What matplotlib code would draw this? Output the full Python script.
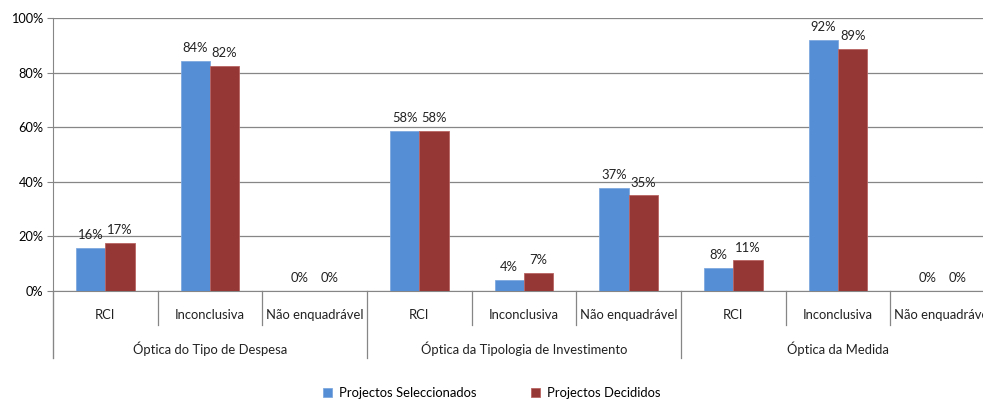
import numpy as np
import matplotlib
matplotlib.use("Agg")
import matplotlib.pyplot as plt

# data
categories = ["RCI", "Inconclusiva", "Não enquadrável"] * 3
groups = ["Óptica do Tipo de Despesa", "Óptica da Tipologia de Investimento", "Óptica da Medida"]
seleccionados = [15.8, 84.2, 0.0, 58.6, 4.0, 37.7, 8.4, 91.9, 0.0]
decididos = [17.5, 82.6, 0.0, 58.5, 6.6, 35.0, 11.2, 88.8, 0.0]
lab_sel = ["16%", "84%", "0%", "58%", "4%", "37%", "8%", "92%", "0%"]
lab_dec = ["17%", "82%", "0%", "58%", "7%", "35%", "11%", "89%", "0%"]
series_names = ["Projectos Seleccionados", "Projectos Decididos"]

blue = "#558ed5"
red = "#953735"
grid_c = "#868686"
fs = 9.4

plt.rcParams['font.family'] = ['Lato', 'DejaVu Sans']

fig = plt.figure(figsize=(9.83, 3.99), dpi=100)
ax = fig.add_axes([53 / 983, 108 / 399, 942 / 983, 273 / 399])

x = np.arange(len(categories)) + 0.5
w = 0.28
b1 = ax.bar(x - w / 2, seleccionados, w, color=blue, edgecolor="#7fa9de", linewidth=0.6, zorder=3)
b2 = ax.bar(x + w / 2, decididos, w, color=red, edgecolor="#b86563", linewidth=0.6, zorder=3)

for xi, v, t in zip(x - w / 2, seleccionados, lab_sel):
    ax.text(xi, v + 2.5, t, ha="center", va="bottom", fontsize=fs, color="#222222")
for xi, v, t in zip(x + w / 2, decididos, lab_dec):
    ax.text(xi, v + 2.5, t, ha="center", va="bottom", fontsize=fs, color="#222222")

ax.set_xlim(0, len(categories))
ax.set_ylim(0, 100)
ax.set_yticks(np.arange(0, 101, 20))
ax.set_yticklabels([f"{v}%" for v in range(0, 101, 20)], fontsize=9.2)
ax.yaxis.grid(True, color=grid_c, linewidth=0.9, zorder=0)
ax.tick_params(axis="y", length=4, color=grid_c, pad=3)
ax.set_xticks([])
for s in ["top", "right"]:
    ax.spines[s].set_visible(False)
ax.spines["left"].set_color(grid_c)
ax.spines["bottom"].set_color(grid_c)
ax.spines["left"].set_bounds(-24.5, 100)

# category dividers and labels
for i in range(len(categories) + 1):
    bottom = -24.5 if i % 3 == 0 else -12.4
    ax.plot([i, i], [0, bottom], color=grid_c, linewidth=0.9, clip_on=False)
for xi, c in zip(x, categories):
    ax.text(xi, -8.8, c, ha="center", va="center", fontsize=fs, color="#222222", clip_on=False)
for g, name in enumerate(groups):
    ax.text(g * 3 + 1.5, -21.2, name, ha="center", va="center", fontsize=fs, color="#222222")

leg = fig.legend([b1, b2], series_names, loc="center", bbox_to_anchor=(491.5 / 983, 6 / 399),
                 ncol=2, frameon=False, fontsize=fs, handlelength=0.7, handleheight=0.7,
                 handletextpad=0.5, columnspacing=4.2)

fig.savefig("out.png", dpi=100)
